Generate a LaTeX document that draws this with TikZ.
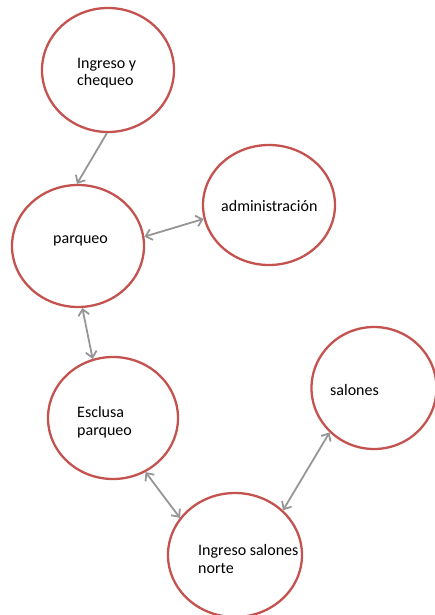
\documentclass[tikz,border=0pt]{standalone}
\usepackage{fontspec}
\setmainfont{Carlito}
\usetikzlibrary{shapes.geometric,arrows.meta}
\definecolor{ringred}{RGB}{196,82,78}
\definecolor{arrgray}{RGB}{150,150,150}
\tikzset{
  ring/.style={ellipse,draw=ringred,line width=2.3pt,fill=white,inner sep=0pt},
  lbl/.style={anchor=base west,align=left,inner sep=0pt,font=\fontsize{16}{17.5}\selectfont},
  conn/.style={draw=arrgray,line width=1.8pt,{Straight Barb[length=6pt,width=11pt]}-{Straight Barb[length=6pt,width=11pt]}},
  connone/.style={draw=arrgray,line width=1.8pt,-{Straight Barb[length=6pt,width=11pt]}}
}
\begin{document}
\begin{tikzpicture}[x=1pt,y=-1pt]
\useasboundingbox (0,0) rectangle (435,615);
\node[ring,minimum width=132pt,minimum height=124pt] (c1) at (108,70) {};
\node[ring,minimum width=132pt,minimum height=122pt] (c2) at (78,246) {};
\node[ring,minimum width=132pt,minimum height=120pt] (c3) at (269,205) {};
\node[ring,minimum width=130pt,minimum height=122pt] (c4) at (113,418) {};
\node[ring,minimum width=125pt,minimum height=122pt] (c5) at (374,388) {};
\node[ring,minimum width=134pt,minimum height=124pt] (c6) at (235,555) {};

\node[lbl] (t1) at (77,86) {Ingreso y\\chequeo};
\node[lbl] (t2) at (53,243) {parqueo};
\node[lbl] (t3) at (221,211) {administración};
\node[lbl] (t4) at (77,435) {Esclusa\\parqueo};
\node[lbl] (t5) at (330,395) {salones};
\node[lbl] (t6) at (198,573) {Ingreso salones\\norte};

\draw[connone] (c1.-91) -- (c2.91);
\draw[conn] (c2.8) -- (c3.-168);
\draw[conn] (c2.-86) -- (c4.109);
\draw[conn] (c4.-59) -- (c6.146);
\draw[conn] (c6.43) -- (c5.-135);
\end{tikzpicture}
\end{document}
